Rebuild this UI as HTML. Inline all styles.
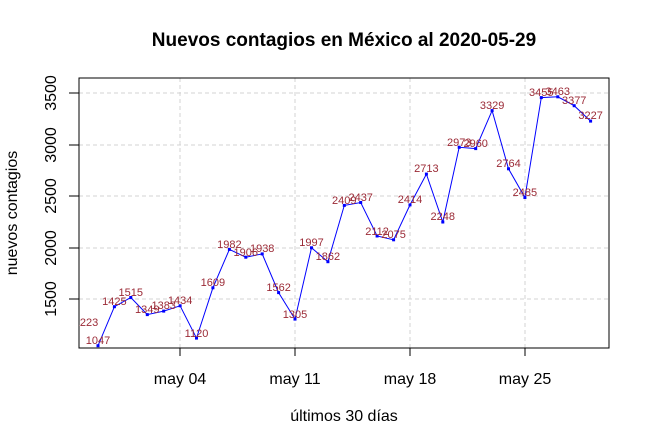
<!DOCTYPE html>
<html><head><meta charset="utf-8"><style>body{margin:0;background:#fff}svg{display:block}</style></head><body>
<svg width="650" height="446" xmlns="http://www.w3.org/2000/svg" font-family="Liberation Sans, sans-serif">
<defs><clipPath id="c"><rect x="79" y="78" width="530" height="270"/></clipPath></defs>
<text x="344" y="46" text-anchor="middle" font-size="19" font-weight="bold">Nuevos contagios en México al 2020-05-29</text>
<g stroke="#d3d3d3" stroke-dasharray="4,3" stroke-width="1">
<line x1="79" x2="609" y1="93" y2="93"/><line x1="79" x2="609" y1="145" y2="145"/><line x1="79" x2="609" y1="196" y2="196"/><line x1="79" x2="609" y1="248" y2="248"/><line x1="79" x2="609" y1="299" y2="299"/>
<line x1="180" x2="180" y1="78" y2="348"/><line x1="295" x2="295" y1="78" y2="348"/><line x1="410" x2="410" y1="78" y2="348"/><line x1="525" x2="525" y1="78" y2="348"/>
</g>
<rect x="79" y="78" width="530" height="270" fill="none" stroke="#000"/>
<g stroke="#000"><line x1="69" x2="79" y1="93" y2="93"/><line x1="69" x2="79" y1="145" y2="145"/><line x1="69" x2="79" y1="196" y2="196"/><line x1="69" x2="79" y1="248" y2="248"/><line x1="69" x2="79" y1="299" y2="299"/>
<line x1="180" x2="180" y1="348" y2="356"/><line x1="295" x2="295" y1="348" y2="356"/><line x1="410" x2="410" y1="348" y2="356"/><line x1="525" x2="525" y1="348" y2="356"/></g>
<g font-size="16" text-anchor="middle">
<text transform="translate(56,93) rotate(-90)">3500</text><text transform="translate(56,145) rotate(-90)">3000</text><text transform="translate(56,196) rotate(-90)">2500</text><text transform="translate(56,248) rotate(-90)">2000</text><text transform="translate(56,299) rotate(-90)">1500</text>
<text x="180" y="384">may 04</text><text x="295" y="384">may 11</text><text x="410" y="384">may 18</text><text x="525" y="384">may 25</text>
<text x="344" y="421">últimos 30 días</text>
<text transform="translate(17,213) rotate(-90)">nuevos contagios</text>
</g>
<polyline fill="none" stroke="#0000ff" stroke-width="1" points="98,345.7 114.4,306.7 130.8,297.5 147.3,314.6 163.7,311.1 180.1,305.8 196.5,338.1 212.9,287.8 229.4,249.4 245.8,257.2 262.2,253.9 278.6,292.6 295,319.1 311.5,247.8 327.9,261.7 344.3,205.4 360.7,202.5 377.1,236 393.6,239.8 410,204.9 426.4,174.1 442.8,222 459.2,147.3 475.7,148.6 492.1,110.6 508.5,168.8 524.9,197.5 541.3,97.6 557.8,96.8 574.2,105.7 590.6,121.1"/>
<g fill="#0000ff">
<rect x="96.5" y="344.2" width="3" height="3"/><rect x="112.9" y="305.2" width="3" height="3"/><rect x="129.3" y="296" width="3" height="3"/><rect x="145.8" y="313.1" width="3" height="3"/><rect x="162.2" y="309.6" width="3" height="3"/><rect x="178.6" y="304.3" width="3" height="3"/><rect x="195" y="336.6" width="3" height="3"/><rect x="211.4" y="286.3" width="3" height="3"/><rect x="227.9" y="247.9" width="3" height="3"/><rect x="244.3" y="255.7" width="3" height="3"/><rect x="260.7" y="252.4" width="3" height="3"/><rect x="277.1" y="291.1" width="3" height="3"/><rect x="293.5" y="317.6" width="3" height="3"/><rect x="310" y="246.3" width="3" height="3"/><rect x="326.4" y="260.2" width="3" height="3"/><rect x="342.8" y="203.9" width="3" height="3"/><rect x="359.2" y="201" width="3" height="3"/><rect x="375.6" y="234.5" width="3" height="3"/><rect x="392.1" y="238.3" width="3" height="3"/><rect x="408.5" y="203.4" width="3" height="3"/><rect x="424.9" y="172.6" width="3" height="3"/><rect x="441.3" y="220.5" width="3" height="3"/><rect x="457.7" y="145.8" width="3" height="3"/><rect x="474.2" y="147.1" width="3" height="3"/><rect x="490.6" y="109.1" width="3" height="3"/><rect x="507" y="167.3" width="3" height="3"/><rect x="523.4" y="196" width="3" height="3"/><rect x="539.8" y="96.1" width="3" height="3"/><rect x="556.3" y="95.3" width="3" height="3"/><rect x="572.7" y="104.2" width="3" height="3"/><rect x="589.1" y="119.6" width="3" height="3"/>
</g>
<g font-size="11" fill="#9b2a36" text-anchor="middle" clip-path="url(#c)">
<text x="86" y="326">1223</text><text x="98" y="344">1047</text><text x="114.4" y="305">1425</text><text x="130.8" y="296">1515</text><text x="147.3" y="313">1349</text><text x="163.7" y="309">1383</text><text x="180.1" y="304">1434</text><text x="196.5" y="337">1120</text><text x="212.9" y="286">1609</text><text x="229.4" y="248">1982</text><text x="245.8" y="256">1906</text><text x="262.2" y="252">1938</text><text x="278.6" y="291">1562</text><text x="295" y="318">1305</text><text x="311.5" y="246">1997</text><text x="327.9" y="260">1862</text><text x="344.3" y="204">2409</text><text x="360.7" y="201">2437</text><text x="377.1" y="235">2112</text><text x="393.6" y="238">2075</text><text x="410" y="203">2414</text><text x="426.4" y="172">2713</text><text x="442.8" y="220">2248</text><text x="459.2" y="146">2973</text><text x="475.7" y="147">2960</text><text x="492.1" y="109">3329</text><text x="508.5" y="167">2764</text><text x="524.9" y="196">2485</text><text x="541.3" y="96">3455</text><text x="557.8" y="95">3463</text><text x="574.2" y="104">3377</text><text x="590.6" y="119">3227</text>
</g>
</svg>
</body></html>
